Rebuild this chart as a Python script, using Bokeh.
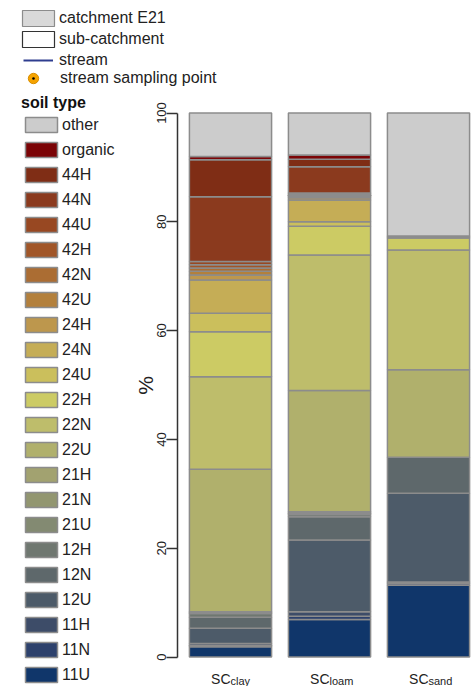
from bokeh.plotting import figure
from bokeh.models import (ColumnDataSource, Range1d, Legend, LegendItem, FixedTicker,
                          LinearAxis)
from bokeh.core.properties import value
from bokeh.embed import file_html
from bokeh.resources import INLINE

# ---------------- data ----------------
subcatchments = ["clay", "loam", "sand"]
label_prefix = "SC"

# legend order (top of the stack first)
soil_types = ["other", "organic", "44H", "44N", "44U", "42H", "42N", "42U",
              "24H", "24N", "24U", "22H", "22N", "22U", "21H", "21N", "21U",
              "12H", "12N", "12U", "11H", "11N", "11U"]
soil_colors = ["#cccccc", "#7b0406", "#7f2d15", "#8b3a1e", "#984822", "#a15628",
               "#ab6d33", "#b3803c", "#bd974d", "#c5ad56", "#cbbf5c", "#cccb64",
               "#bebd6b", "#b0b06c", "#a2a270", "#929670", "#838a72", "#6f7770",
               "#5e686b", "#4d5b69", "#3d4c68", "#2d416c", "#10366a"]

# percentage of each soil type in SC clay, SC loam, SC sand
other   = [8.0, 7.7, 22.6]
organic = [0.6, 0.8, 0.0]
s44H = [6.8, 1.4, 0.0]
s44N = [11.9, 4.8, 0.0]
s44U = [0.6, 0.2, 0.0]
s42H = [0.6, 0.2, 0.0]
s42N = [0.6, 0.2, 0.0]
s42U = [0.7, 0.3, 0.0]
s24H = [0.9, 0.4, 0.0]
s24N = [6.1, 4.0, 0.2]
s24U = [3.4, 0.8, 0.2]
s22H = [8.3, 5.3, 2.2]
s22N = [17.0, 24.9, 22.0]
s22U = [26.2, 22.3, 16.1]
s21H = [0.1, 0.2, 0.0]
s21N = [0.1, 0.1, 0.0]
s21U = [0.1, 0.2, 0.0]
s12H = [0.7, 0.4, 0.0]
s12N = [2.0, 4.3, 6.6]
s12U = [2.8, 13.2, 16.3]
s11H = [0.4, 0.8, 0.3]
s11N = [0.2, 0.6, 0.3]
s11U = [1.9, 6.9, 13.2]

y_ticks = [0, 20, 40, 60, 80, 100]
y_label = "%"
map_legend_labels = ["catchment E21", "sub-catchment", "stream", "stream sampling point"]
soil_title = "soil type"

series = [other, organic, s44H, s44N, s44U, s42H, s42N, s42U, s24H, s24N, s24U,
          s22H, s22N, s22U, s21H, s21N, s21U, s12H, s12N, s12U, s11H, s11N, s11U]

# ---------------- figure ----------------
FONT = "Liberation Sans"
TXT = "#222222"
W, H = 476, 686
NAN = float("nan")

p = figure(width=W, height=H,
           x_range=Range1d(-2.3232, 2.4848), y_range=Range1d(-5.42, 120.68),
           x_axis_location=None, y_axis_location=None,
           min_border_left=0, min_border_right=0, min_border_top=0, min_border_bottom=0,
           output_backend="svg", toolbar_location=None)
p.outline_line_color = None
p.grid.grid_line_color = None
p.background_fill_color = "white"
p.border_fill_color = "white"

data = {"x": list(range(len(subcatchments)))}
for name, vals in zip(soil_types, series):
    data[name] = vals
source = ColumnDataSource(data)

stackers = soil_types[::-1]
colors_bt = soil_colors[::-1]
renderers = p.vbar_stack(stackers, x="x", width=0.83, source=source,
                         fill_color=colors_bt, line_color="#8c8c8c", line_width=1.5)
rmap = dict(zip(stackers, renderers))

# x labels with subscripts
lab = ColumnDataSource(dict(x=list(range(len(subcatchments))),
                            main=[label_prefix] * len(subcatchments),
                            sub=subcatchments))
p.text(x="x", y=0, text="main", source=lab, text_align="right", text_baseline="alphabetic",
       x_offset=0, y_offset=22, text_font=value(FONT), text_font_size="14px", text_color=TXT)
p.text(x="x", y=0, text="sub", source=lab, text_align="left", text_baseline="alphabetic",
       x_offset=0, y_offset=24, text_font=value(FONT), text_font_size="11px", text_color=TXT)

# y axis (R style: line only spans 0-100), placed left of the first bar
ax = LinearAxis(fixed_location=-0.5354)
ax.bounds = (0, 100)
ax.ticker = FixedTicker(ticks=y_ticks)
ax.major_label_orientation = "vertical"
ax.major_tick_out = 11
ax.major_tick_in = 0
ax.minor_tick_out = 0
ax.minor_tick_in = 0
ax.axis_line_color = "#333333"
ax.axis_line_width = 1.5
ax.major_tick_line_color = "#333333"
ax.major_tick_line_width = 1.5
ax.major_label_text_font = FONT
ax.major_label_text_font_size = "13px"
ax.major_label_text_color = TXT
ax.major_label_standoff = 0
ax.axis_label = y_label
ax.axis_label_text_font = FONT
ax.axis_label_text_font_size = "21px"
ax.axis_label_text_font_style = "normal"
ax.axis_label_text_color = TXT
ax.axis_label_standoff = -2
p.add_layout(ax, "left")

# map legend (proxy renderers, nothing drawn in the plot area)
r_catch = p.quad(left=[NAN], right=[NAN], top=[NAN], bottom=[NAN], fill_color="#d9d9d9",
                 line_color="#8c8c8c", line_width=1.2)
r_sub = p.quad(left=[NAN], right=[NAN], top=[NAN], bottom=[NAN], fill_color="white",
               line_color="#333333", line_width=1.2)
r_stream = p.line(x=[NAN, NAN], y=[NAN, NAN], line_color="#2e3d8f", line_width=2)
r_pt = p.scatter(x=[NAN], y=[NAN], marker="circle", fill_color="#f5a300",
                 line_color="#d98e00", line_width=1)
r_dot = p.scatter(x=[NAN], y=[NAN], marker="dot", line_color="black", fill_color="black")


def style_legend(lg, gw, gh, lh, sp, standoff):
    lg.glyph_width = gw
    lg.glyph_height = gh
    lg.label_height = lh
    lg.spacing = sp
    lg.padding = 0
    lg.margin = 0
    lg.label_standoff = standoff
    lg.border_line_color = None
    lg.background_fill_alpha = 0
    lg.label_text_font = FONT
    lg.label_text_font_size = "16px"
    lg.label_text_color = TXT


leg_area = Legend(items=[LegendItem(label=map_legend_labels[0], renderers=[r_catch]),
                         LegendItem(label=map_legend_labels[1], renderers=[r_sub])],
                  location=(18, 636.5))
style_legend(leg_area, 40, 20, 21, 0, 1)
p.add_layout(leg_area)

leg_stream = Legend(items=[LegendItem(label=map_legend_labels[2], renderers=[r_stream])],
                    location=(23, 615.5))
style_legend(leg_stream, 30, 16, 21, 0, 6)
p.add_layout(leg_stream)

leg_pt = Legend(items=[LegendItem(label=map_legend_labels[3], renderers=[r_pt, r_dot])],
                location=(20, 594))
style_legend(leg_pt, 26, 28, 28, 0, 14)
p.add_layout(leg_pt)

soil_items = [LegendItem(label=n, renderers=[rmap[n]]) for n in soil_types]
leg_soil = Legend(items=soil_items, location=(21, -1), title=soil_title)
style_legend(leg_soil, 40, 19, 25, 0, 1)
leg_soil.title_text_font = FONT
leg_soil.title_text_font_size = "16px"
leg_soil.title_text_font_style = "bold"
leg_soil.title_text_color = "#111111"
leg_soil.title_standoff = 0
p.add_layout(leg_soil)

open("out.html", "w").write(file_html(p, INLINE))
